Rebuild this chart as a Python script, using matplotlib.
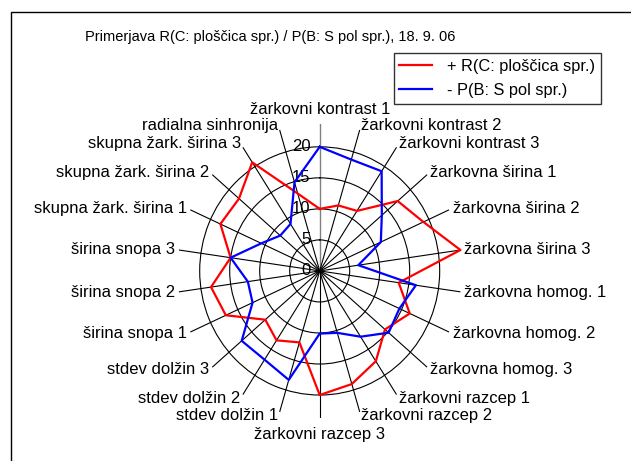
import numpy as np
import matplotlib.pyplot as plt
from matplotlib.patches import Rectangle

plt.rcParams['font.family'] = ['Liberation Sans', 'DejaVu Sans']

# kategorije (v smeri urinega kazalca, od vrha)
categories = ['žarkovni kontrast 1', 'žarkovni kontrast 2', 'žarkovni kontrast 3',
              'žarkovna širina 1', 'žarkovna širina 2', 'žarkovna širina 3',
              'žarkovna homog. 1', 'žarkovna homog. 2', 'žarkovna homog. 3',
              'žarkovni razcep 1', 'žarkovni razcep 2', 'žarkovni razcep 3',
              'stdev dolžin 1', 'stdev dolžin 2', 'stdev dolžin 3',
              'širina snopa 1', 'širina snopa 2', 'širina snopa 3',
              'skupna žark. širina 1', 'skupna žark. širina 2', 'skupna žark. širina 3',
              'radialna sinhronija']
r_vals = [10, 11, 11.5, 17.2, 19, 23.7, 13.3, 16.5, 14.4, 17.3, 19, 20,
          12, 13.3, 12, 17.2, 18.3, 15, 18.2, 17.8, 20.8, 13]
p_vals = [20, 18.7, 19.1, 13.7, 11.2, 6.5, 16.2, 14.6, 15.2, 12.6, 10.4, 10.1,
          18.3, 17, 17.2, 12.3, 12.1, 15, 10.7, 8.7, 9.0, 14.9]
ring_ticks = [0, 5, 10, 15, 20]
r_label = '+ R(C: ploščica spr.)'
p_label = '- P(B: S pol spr.)'
title = 'Primerjava R(C: ploščica spr.) / P(B: S pol spr.), 18. 9. 06'

rmax = 23.7
n = len(categories)
theta = np.arange(n) * 2 * np.pi / n
theta_closed = np.append(theta, theta[0])

fig = plt.figure(figsize=(6.31, 4.61), dpi=100)
ax = fig.add_axes([0.2813, 0.0933, 0.4507, 0.638], projection='polar')
ax.set_aspect('auto')
ax.set_theta_zero_location('N')
ax.set_theta_direction(-1)
ax.set_ylim(0, rmax)
ax.spines['polar'].set_visible(False)

ax.set_thetagrids(np.degrees(theta), labels=[])
ax.set_rgrids(ring_ticks[1:], labels=[])
ax.grid(True, color='black', linewidth=0.8)
gl = ax.xaxis.get_gridlines()
gl[0].set_color('#808080')
gl[0].set_linewidth(1.0)

ax.plot(theta_closed, np.append(r_vals, r_vals[0]), color='#FF0000', lw=1.6,
        label=r_label, clip_on=False, zorder=5)
ax.plot(theta_closed, np.append(p_vals, p_vals[0]), color='#0000FF', lw=1.6,
        label=p_label, clip_on=False, zorder=5)

# oznake vrednosti na navpicni osi
for v in ring_ticks:
    ax.annotate(str(v), xy=(0, v), xytext=(-9, 0), textcoords='offset pixels',
                ha='right', va='center', fontsize=12, annotation_clip=False)

# oznake kategorij
for t, lab in zip(theta, categories):
    s, c = np.sin(t), np.cos(t)
    if abs(s) < 0.01:
        ha = 'center'
        va = 'bottom' if c > 0 else 'top'
        pad = 7 if c > 0 else 9
    else:
        ha = 'left' if s > 0 else 'right'
        va = 'center'
        pad = 4
    ax.annotate(lab, xy=(t, rmax), xytext=(pad * s, pad * c), textcoords='offset pixels',
                ha=ha, va=va, fontsize=12, annotation_clip=False)

fig.text(0.428, 0.92, title, ha='center', va='center', fontsize=10.5)

leg = fig.legend(loc='upper right', bbox_to_anchor=(0.952, 0.884), fontsize=11.8,
                 frameon=True, fancybox=False, borderaxespad=0, handlelength=2.0,
                 handletextpad=0.9, labelspacing=0.55, borderpad=0.35)
leg.get_frame().set_edgecolor('black')
leg.get_frame().set_linewidth(1.0)

fig.patches.append(Rectangle((11 / 631, -0.1), 1.2, 1 - 12 / 461 + 0.1, transform=fig.transFigure,
                             fill=False, edgecolor='black', linewidth=1.0))

fig.savefig('out.png', dpi=100)
